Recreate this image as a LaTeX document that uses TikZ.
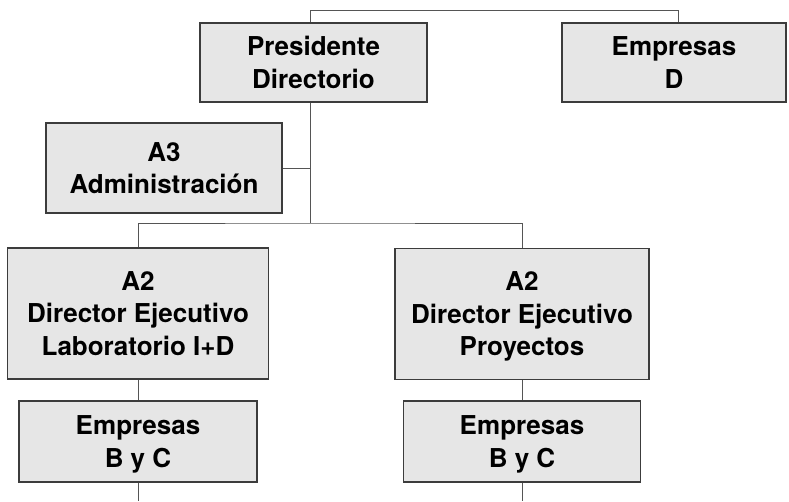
\documentclass[tikz,border=0pt]{standalone}
\usepackage{fontspec}
\setmainfont{TeX Gyre Heros}
\usepackage{tikz}

\definecolor{boxfill}{HTML}{E6E6E6}
\definecolor{boxline}{HTML}{3C3C3C}
\definecolor{linkline}{HTML}{555555}

\tikzset{
  orgbox/.style={draw=boxline, line width=1.3pt, fill=boxfill, align=center,
    font=\fontsize{26}{32.5}\selectfont\bfseries, inner sep=0pt, text depth=0pt},
  link/.style={draw=linkline, line width=1pt}
}

\begin{document}
\begin{tikzpicture}[x=1pt,y=-1pt]
        \useasboundingbox (0,0) rectangle (789,501);

        \node[orgbox, minimum width=227pt, minimum height=79pt] (pres) at (313.5,62.5) {Presidente\\Directorio};
        \node[orgbox, minimum width=224pt, minimum height=79pt] (empd) at (674,62.5) {Empresas\\D};

        \node[orgbox, minimum width=236pt, minimum height=90pt] (adm) at (164,168) {A3\\Administraci\'on};

        \node[orgbox, minimum width=261pt, minimum height=131pt, text depth=-14pt] (dirlab) at (138,313.5) {A2\\Director Ejecutivo\\Laboratorio I+D};
        \node[orgbox, minimum width=254pt, minimum height=131pt, text depth=-14pt] (dirpro) at (522,314) {A2\\Director Ejecutivo\\Proyectos};

        \node[orgbox, minimum width=238pt, minimum height=81pt] (emplab) at (138,441.5) {Empresas\\B y C};
        \node[orgbox, minimum width=237pt, minimum height=81pt] (emppro) at (522,441.5) {Empresas\\B y C};

        \coordinate (bus) at (310,10);
        \coordinate (busend) at (678,10);
        \coordinate (spine) at (310,223);
        \coordinate (endlab) at (138,501);
        \coordinate (endpro) at (522,501);

        % links above the boxes
        \path[link] (pres.north -| bus) -- (bus) -- (busend) -- (empd.north -| busend);
        \path[link] (pres.south -| spine) -- (spine);
        \path[link] (adm.east) -- (adm.east -| spine);
        \path[link] (dirlab.north) |- (spine) -| (dirpro.north);

        % links below
        \path[link] (dirlab.south) -- (emplab.north);
        \path[link] (dirpro.south) -- (emppro.north);
        \path[link] (emplab.south) -- (endlab);
        \path[link] (emppro.south) -- (endpro);
    \end{tikzpicture}
\end{document}
